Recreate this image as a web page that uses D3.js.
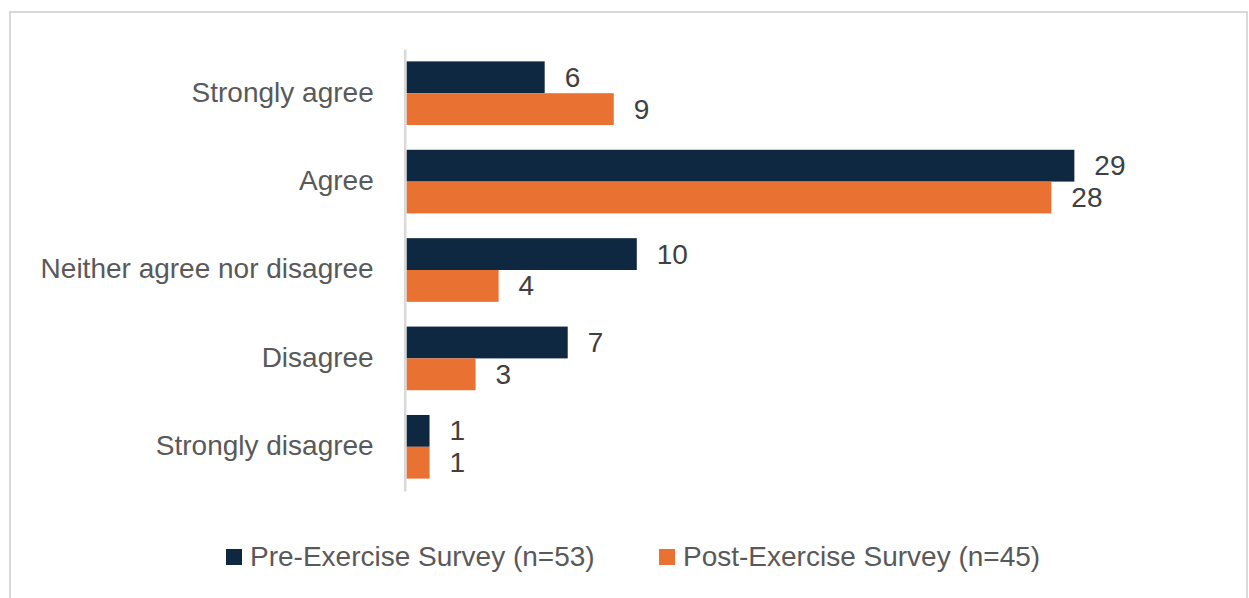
<!DOCTYPE html>
<html><head><meta charset="utf-8">
<script src="https://cdn.jsdelivr.net/npm/d3@7/dist/d3.min.js"></script>
<style>body{margin:0;background:#fff;}svg{display:block;}</style>
</head><body>
<svg id="c" width="1249" height="598"></svg>
<script>
const categories = ["Strongly agree","Agree","Neither agree nor disagree","Disagree","Strongly disagree"];
const seriesNames = ["Pre-Exercise Survey (n=53)","Post-Exercise Survey (n=45)"];
const preValues = [6,29,10,7,1];
const postValues = [9,28,4,3,1];
const colors = ["#0E2841","#E97132"];
const textColor = "#595959";
const font = "'Liberation Sans', Arial, sans-serif";

const svg = d3.select("#c");
svg.append("rect").attr("x",10).attr("y",12).attr("width",1237).attr("height",600)
  .attr("fill","#fff").attr("stroke","#d9d9d9").attr("stroke-width",2);

const x = d3.scaleLinear().domain([0,30]).range([406.5, 406.5 + 30*23.03]);
const y = d3.scaleBand().domain(categories).range([49,491]).paddingInner(0.28).paddingOuter(0.14);
const ySub = d3.scaleBand().domain([0,1]).range([0,y.bandwidth()]);

const data = categories.map((c,i)=>({cat:c, vals:[preValues[i], postValues[i]]}));

const g = svg.append("g");
const groups = g.selectAll("g.cat").data(data).join("g").attr("class","cat")
  .attr("transform", d=>`translate(0,${y(d.cat)})`);
groups.selectAll("rect").data(d=>d.vals.map((v,k)=>({v,k}))).join("rect")
  .attr("x", x(0)).attr("y", d=>ySub(d.k)).attr("width", d=>x(d.v)-x(0)).attr("height", ySub.bandwidth())
  .attr("fill", d=>colors[d.k]);
groups.selectAll("text.val").data(d=>d.vals.map((v,k)=>({v,k}))).join("text").attr("class","val")
  .attr("x", d=>x(d.v)+20).attr("y", d=>ySub(d.k)+ySub.bandwidth()/2).attr("dy","0.34em")
  .attr("font-family",font).attr("font-size",28).attr("fill","#404040").text(d=>d.v);

// axis
const yAxis = d3.axisLeft(y).tickSize(0).tickPadding(31);
const ax = svg.append("g").attr("transform","translate(404.7,0)").call(yAxis);
ax.select(".domain").attr("stroke","#d9d9d9").attr("stroke-width",2.5);
ax.selectAll("text").attr("font-family",font).attr("font-size",28).attr("fill",textColor).attr("dy","0.3em");

// legend
const legendX = [226, 659];
const leg = svg.append("g");
seriesNames.forEach((s,k)=>{
  leg.append("rect").attr("x",legendX[k]).attr("y",549).attr("width",16).attr("height",16).attr("fill",colors[k]);
  leg.append("text").attr("x",legendX[k]+24).attr("y",556).attr("dy","0.36em")
    .attr("font-family",font).attr("font-size",28).attr("fill",textColor).text(s);
});
</script>
</body></html>
